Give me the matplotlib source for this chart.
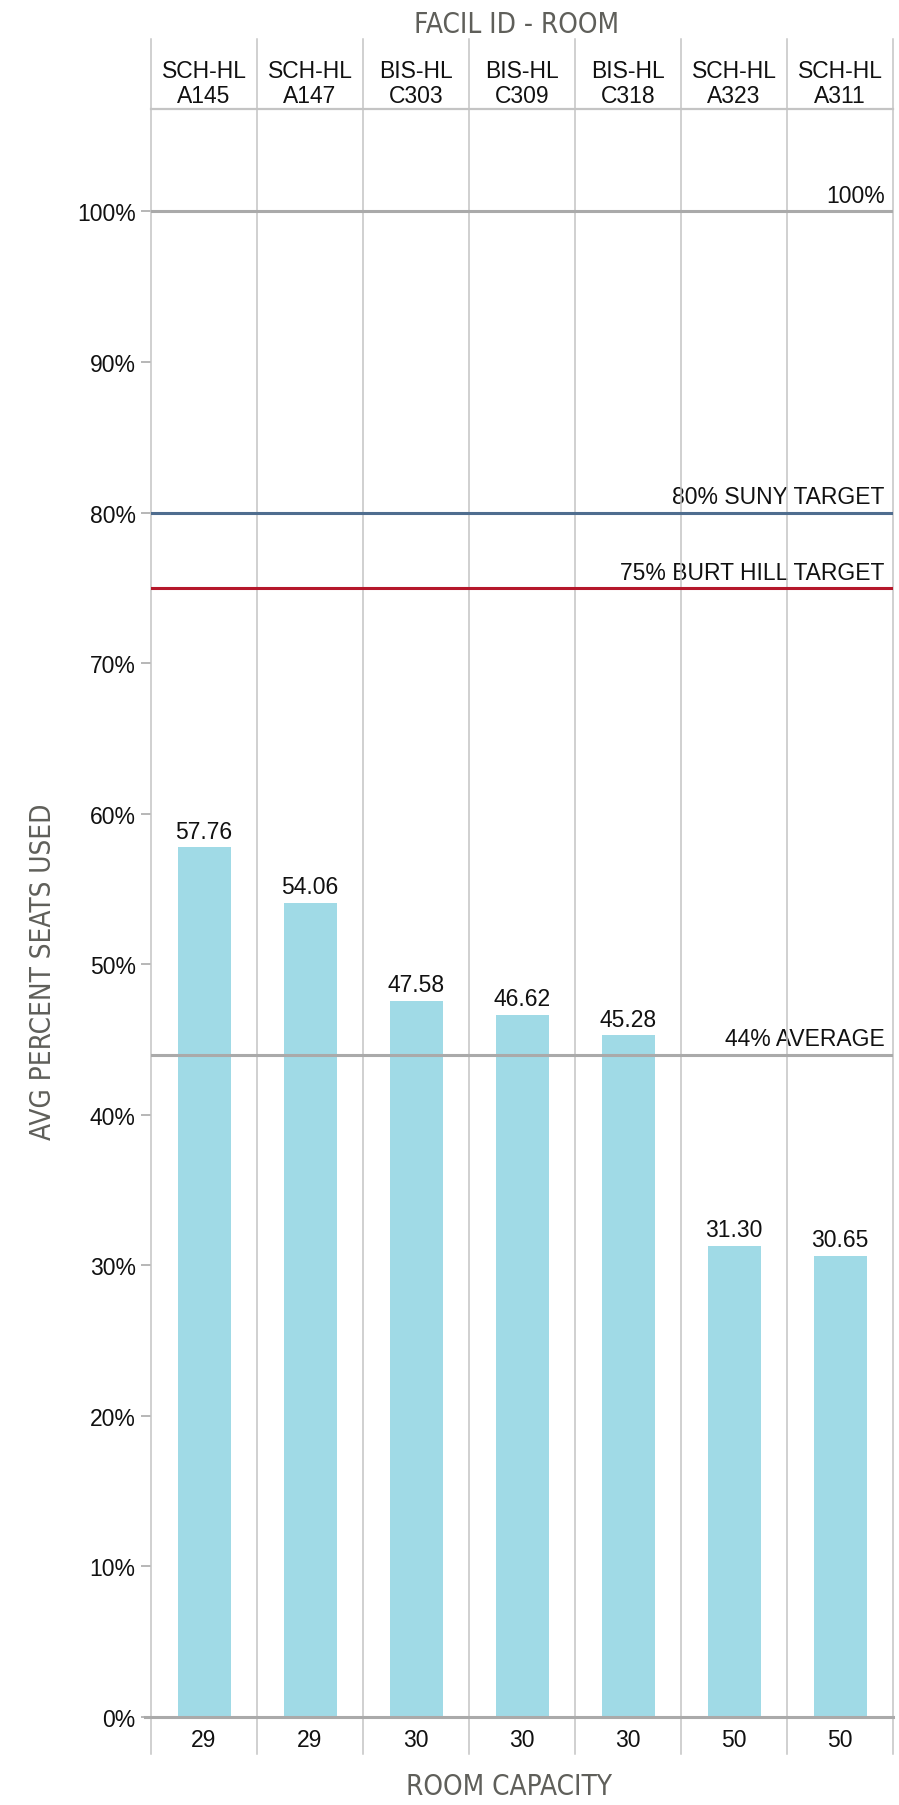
import matplotlib
matplotlib.use('Agg')
import matplotlib.pyplot as plt
import matplotlib.transforms as mtransforms

plt.rcParams['font.family'] = ['Liberation Sans', 'DejaVu Sans']

# 数据
facility = ['SCH-HL', 'SCH-HL', 'BIS-HL', 'BIS-HL', 'BIS-HL', 'SCH-HL', 'SCH-HL']
rooms = ['A145', 'A147', 'C303', 'C309', 'C318', 'A323', 'A311']
capacity = [29, 29, 30, 30, 30, 50, 50]
seats_used = [57.76, 54.06, 47.58, 46.62, 45.28, 31.30, 30.65]
ref_values = [100, 80, 75, 44]
ref_labels = ['100%', '80% SUNY TARGET', '75% BURT HILL TARGET', '44% AVERAGE']
ref_colors = ['#aaaaaa', '#4f6d8f', '#b5182b', '#aaaaaa']
yticks = list(range(0, 101, 10))

BAR_COLOR = '#a0dae6'
GRID_COLOR = '#c4c4c4'
LABEL_COLOR = '#5f5f5a'
TXT = '#111111'
FS = 16.5

fig = plt.figure(figsize=(8.99, 18.06), dpi=100)
ax = fig.add_axes([151 / 899, 1 - 1718 / 1806, (893 - 151) / 899, (1718 - 110) / 1806])

n = len(seats_used)
x = list(range(n))

# 柱状图
ax.bar(x, seats_used, width=0.5, color=BAR_COLOR, zorder=2)
for xi, v in zip(x, seats_used):
    ax.annotate(f'{v:.2f}', (xi, v), xytext=(0, 7), textcoords='offset points',
                ha='center', va='baseline', fontsize=FS, color=TXT, zorder=1)

ax.set_xlim(-0.5, n - 0.5)
ax.set_ylim(0, 106.8)

# 参考线
for v, lab, c in zip(ref_values, ref_labels, ref_colors):
    ax.axhline(v, color=c, linewidth=2.2, zorder=4)
    ax.text(6.42, v + 0.6, lab, ha='right', va='baseline', fontsize=FS,
            color=TXT, zorder=1)

# 竖向网格线 (延伸到表头和底部)
trans = mtransforms.blended_transform_factory(ax.transData, ax.transAxes)
for i in range(n + 1):
    ax.plot([i - 0.5, i - 0.5], [-0.023, 1.0435], transform=trans, color=GRID_COLOR,
            linewidth=1.1, clip_on=False, zorder=3)
ax.plot([-0.5, n - 0.5], [1.0, 1.0], transform=trans, color=GRID_COLOR,
        linewidth=1.6, clip_on=False, zorder=3)
ax.plot([-0.56, n - 0.5], [0.0, 0.0], transform=trans, color='#aaaaaa',
        linewidth=2.2, clip_on=False, zorder=4)

# 表头与底部
for xi, f, r, c in zip(x, facility, rooms, capacity):
    ax.text(xi, 1.016, f'{f}\n{r}', transform=trans, ha='center', va='center',
            fontsize=FS, color=TXT, linespacing=1.12)
    ax.text(xi, -0.0143, str(c), transform=trans, ha='center', va='center',
            fontsize=FS, color=TXT)

# 坐标轴
for s in ['top', 'right', 'bottom', 'left']:
    ax.spines[s].set_visible(False)
ax.set_xticks([])
ax.set_yticks(yticks)
ax.set_yticklabels([f'{t}%' for t in yticks], fontsize=FS, color=TXT)
ax.tick_params(axis='y', length=7, width=1.2, color='#aaaaaa', pad=4)

title_kw = dict(fontsize=20, color=LABEL_COLOR, family='DejaVu Sans',
                fontstretch='condensed', fontweight='light')
fig.text(517 / 899, 1 - 25 / 1806, 'FACIL ID - ROOM', ha='center', va='center', **title_kw)
fig.text(509 / 899, 1 - 1787 / 1806, 'ROOM CAPACITY', ha='center', va='center', **title_kw)
fig.text(43 / 899, 1 - 972 / 1806, 'AVG PERCENT SEATS USED', ha='center', va='center',
         rotation=90, **title_kw)

fig.savefig('out.png', dpi=100)
